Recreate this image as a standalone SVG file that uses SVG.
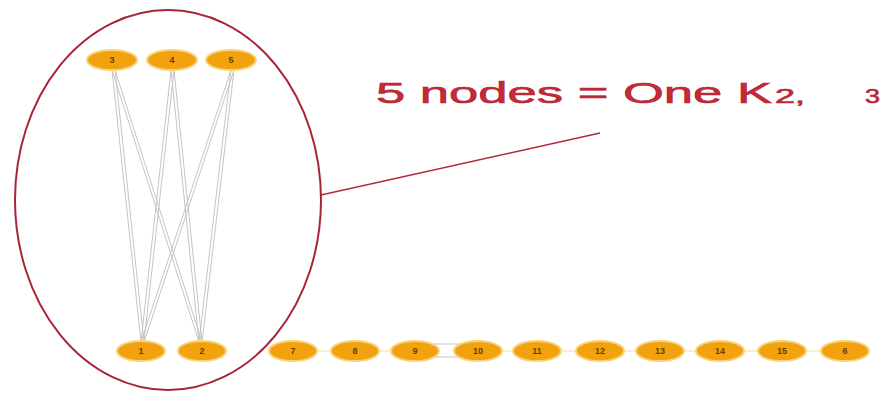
<svg xmlns="http://www.w3.org/2000/svg" width="887" height="393" viewBox="0 0 887 393">
<style>
.node ellipse{fill:#f2a20e;stroke:#f9d27a;stroke-width:2}
.node text{font-family:"Liberation Sans",Arial,sans-serif;font-size:9px;fill:#6a4000;text-anchor:middle;font-weight:bold}
.e{stroke:#c4c4c4;stroke-width:1;fill:none}
.c{stroke:#f4d9a0;stroke-width:1;fill:none}
.lbl{font-family:"Liberation Sans",Arial,sans-serif;fill:#c62a36;stroke:#b02434;stroke-width:0.6}
</style>
<rect width="887" height="393" fill="#ffffff"/>
<g id="connectors">
<line class="e" x1="112" y1="70" x2="141" y2="342"/><line class="e" x1="115" y1="70" x2="144" y2="342"/>
<line class="e" x1="112" y1="70" x2="199" y2="342"/><line class="e" x1="115" y1="70" x2="202" y2="342"/>
<line class="e" x1="171" y1="70" x2="141" y2="342"/><line class="e" x1="174" y1="70" x2="144" y2="342"/>
<line class="e" x1="171" y1="70" x2="199" y2="342"/><line class="e" x1="174" y1="70" x2="202" y2="342"/>
<line class="e" x1="231" y1="70" x2="141" y2="342"/><line class="e" x1="234" y1="70" x2="144" y2="342"/>
<line class="e" x1="231" y1="70" x2="199" y2="342"/><line class="e" x1="234" y1="70" x2="202" y2="342"/>
<line class="c" x1="316" y1="351" x2="332" y2="351"/>
<line class="c" x1="378" y1="351" x2="392" y2="351"/>
<path class="e" d="M432 344 L461 344 M432 357 L461 357"/>
<line class="c" x1="501" y1="351" x2="514" y2="351"/>
<line class="c" x1="560" y1="351" x2="577" y2="351"/>
<line class="c" x1="623" y1="351" x2="637" y2="351"/>
<line class="c" x1="683" y1="351" x2="697" y2="351"/>
<line class="c" x1="743" y1="351" x2="759" y2="351"/>
<line class="c" x1="805" y1="351" x2="822" y2="351"/>
</g>
<g id="group-ellipse">
<ellipse cx="168" cy="200" rx="153" ry="190" fill="none" stroke="#a8243a" stroke-width="2"/>
<line x1="321" y1="195" x2="600" y2="133" stroke="#b02a3c" stroke-width="1.5"/>
</g>
<g id="n3" class="node"><ellipse cx="112" cy="60" rx="25" ry="10"/><text x="112" y="63">3</text></g>
<g id="n4" class="node"><ellipse cx="172" cy="60" rx="25" ry="10"/><text x="172" y="63">4</text></g>
<g id="n5" class="node"><ellipse cx="231" cy="60" rx="25" ry="10"/><text x="231" y="63">5</text></g>
<g id="n1" class="node"><ellipse cx="141" cy="351" rx="24" ry="10"/><text x="141" y="354">1</text></g>
<g id="n2" class="node"><ellipse cx="202" cy="351" rx="24" ry="10"/><text x="202" y="354">2</text></g>
<g id="n7" class="node"><ellipse cx="293" cy="351" rx="24" ry="10"/><text x="293" y="354">7</text></g>
<g id="n8" class="node"><ellipse cx="355" cy="351" rx="24" ry="10"/><text x="355" y="354">8</text></g>
<g id="n9" class="node"><ellipse cx="415" cy="351" rx="24" ry="10"/><text x="415" y="354">9</text></g>
<g id="n10" class="node"><ellipse cx="478" cy="351" rx="24" ry="10"/><text x="478" y="354">10</text></g>
<g id="n11" class="node"><ellipse cx="537" cy="351" rx="24" ry="10"/><text x="537" y="354">11</text></g>
<g id="n12" class="node"><ellipse cx="600" cy="351" rx="24" ry="10"/><text x="600" y="354">12</text></g>
<g id="n13" class="node"><ellipse cx="660" cy="351" rx="24" ry="10"/><text x="660" y="354">13</text></g>
<g id="n14" class="node"><ellipse cx="720" cy="351" rx="24" ry="10"/><text x="720" y="354">14</text></g>
<g id="n15" class="node"><ellipse cx="782" cy="351" rx="24" ry="10"/><text x="782" y="354">15</text></g>
<g id="n6" class="node"><ellipse cx="845" cy="351" rx="24" ry="10"/><text x="845" y="354">6</text></g>
<g id="label">
<text class="lbl" x="376" y="103" font-size="29" textLength="396" lengthAdjust="spacingAndGlyphs">5 nodes = One K</text>
<text class="lbl" x="775" y="103" font-size="20" textLength="30" lengthAdjust="spacingAndGlyphs">2,</text>
<text class="lbl" x="865" y="103" font-size="20" textLength="15" lengthAdjust="spacingAndGlyphs">3</text>
</g>
</svg>
